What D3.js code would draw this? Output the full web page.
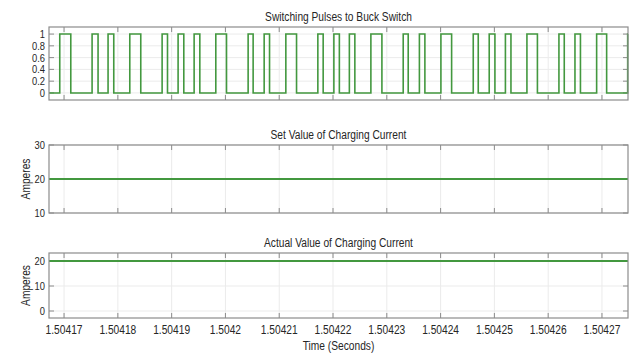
<!DOCTYPE html>
<html>
<head>
<meta charset="utf-8">
<script src="https://cdn.jsdelivr.net/npm/d3@7"></script>
<style>
  html, body { margin: 0; padding: 0; background: #fff; }
  text { font-family: "Liberation Sans", Arial, sans-serif; fill: #262626; }
</style>
</head>
<body>
<div id="chart"></div>
<script>
// time window shown on every panel (seconds)
const timeDomain = [1.5041672, 1.50427484];

const xTicks = [1.50417, 1.50418, 1.50419, 1.5042, 1.50421, 1.50422, 1.50423, 1.50424, 1.50425, 1.50426, 1.50427];
const xTickLabels = ["1.50417", "1.50418", "1.50419", "1.5042", "1.50421", "1.50422", "1.50423", "1.50424", "1.50425", "1.50426", "1.50427"];

// switching pulses: time of each edge and the level after it
const pulseTimes = [1.5041672, 1.5041692, 1.50417125, 1.50417521, 1.50417632, 1.50417818, 1.50417924,
    1.50418222, 1.50418426, 1.50418823, 1.50418923, 1.5041912, 1.50419226, 1.50419418, 1.50419524,
    1.50419821, 1.5042002, 1.50420422, 1.50420515, 1.5042072, 1.5042082, 1.50421123, 1.50421322,
    1.50421718, 1.50421817, 1.50422016, 1.50422118, 1.50422304, 1.50422406, 1.50422704, 1.50422909,
    1.50423305, 1.50423398, 1.50423606, 1.50423708, 1.50424006, 1.50424205, 1.50424607, 1.504247,
    1.50424904, 1.5042501, 1.50425205, 1.50425308, 1.50425605, 1.504258, 1.504262, 1.50426299,
    1.50426498, 1.504266, 1.50426901, 1.50427087, 1.50427478, 1.50427484];
const pulseLevels = [0, 1, 0, 1, 0, 1, 0,
    1, 0, 1, 0, 1, 0, 1, 0,
    1, 0, 1, 0, 1, 0, 1, 0,
    1, 0, 1, 0, 1, 0, 1, 0,
    1, 0, 1, 0, 1, 0, 1, 0,
    1, 0, 1, 0, 1, 0, 1, 0,
    1, 0, 1, 0, 1, 1];
const pulseYTicks = [0, 0.2, 0.4, 0.6, 0.8, 1];
const pulseYLabels = ["0", "0.2", "0.4", "0.6", "0.8", "1"];

// set value of charging current
const setTimes = [1.5041672, 1.50427484];
const setValues = [20, 20];
const setYTicks = [10, 20, 30];

// actual value of charging current
const actualTimes = [1.5041672, 1.50427484];
const actualValues = [20, 20];
const actualYTicks = [0, 10, 20];

const
    width = 634,
    height = 354,
    margin = { left: 49, right: 6 },
    squeeze = 0.85,
    colors = { line: "#43983f", grid: "#ebebeb", box: "#8c8c8c", text: "#262626" },
    svg = d3.select("#chart").append("svg").attr("width", width).attr("height", height);

const xScale = d3.scaleLinear()
    .domain(timeDomain)
    .range([margin.left, width - margin.right]);

// narrow the text a bit, the original is horizontally compressed
function addText(g, x, y, str, size, anchor) {
    const t = g.append("text")
        .attr("x", x)
        .attr("y", y)
        .attr("font-size", size)
        .attr("text-anchor", anchor)
        .text(str);
    const len = t.node().getComputedTextLength();
    t.attr("textLength", len * squeeze).attr("lengthAdjust", "spacingAndGlyphs");
    return t;
}

function createPanel(opts) {
    const y = d3.scaleLinear().domain(opts.yDomain).range([opts.bottom, opts.top]);
    const g = svg.append("g");
    const x0 = margin.left, x1 = width - margin.right;

    // grid
    g.selectAll(".vgrid").data(xTicks).enter().append("line")
        .attr("x1", d => xScale(d)).attr("x2", d => xScale(d))
        .attr("y1", opts.top).attr("y2", opts.bottom)
        .attr("stroke", colors.grid).attr("stroke-width", 1);
    g.selectAll(".hgrid").data(opts.yTicks).enter().append("line")
        .attr("x1", x0).attr("x2", x1)
        .attr("y1", d => y(d)).attr("y2", d => y(d))
        .attr("stroke", colors.grid).attr("stroke-width", 1);

    // inward ticks on all four sides
    const tl = 5;
    xTicks.forEach(d => {
        g.append("line").attr("x1", xScale(d)).attr("x2", xScale(d))
            .attr("y1", opts.bottom).attr("y2", opts.bottom - tl)
            .attr("stroke", colors.box);
        g.append("line").attr("x1", xScale(d)).attr("x2", xScale(d))
            .attr("y1", opts.top).attr("y2", opts.top + tl)
            .attr("stroke", colors.box);
    });
    opts.yTicks.forEach(d => {
        g.append("line").attr("x1", x0).attr("x2", x0 + tl)
            .attr("y1", y(d)).attr("y2", y(d)).attr("stroke", colors.box);
        g.append("line").attr("x1", x1).attr("x2", x1 - tl)
            .attr("y1", y(d)).attr("y2", y(d)).attr("stroke", colors.box);
    });

    // data line
    const line = d3.line()
        .x(d => xScale(d[0]))
        .y(d => y(d[1]))
        .curve(opts.step ? d3.curveStepAfter : d3.curveLinear);
    g.append("path")
        .datum(opts.times.map((t, i) => [t, opts.values[i]]))
        .attr("fill", "none")
        .attr("stroke", colors.line)
        .attr("stroke-width", opts.lineWidth)
        .attr("stroke-linejoin", "miter")
        .attr("d", line);

    // box
    g.append("rect")
        .attr("x", x0).attr("y", opts.top)
        .attr("width", x1 - x0).attr("height", opts.bottom - opts.top)
        .attr("fill", "none").attr("stroke", colors.box).attr("stroke-width", 1.2);

    // y tick labels
    opts.yTicks.forEach((d, i) => {
        addText(g, x0 - 4, y(d) + 4, opts.yLabels ? opts.yLabels[i] : String(d), 11, "end");
    });

    // title
    addText(g, (x0 + x1) / 2, opts.top - 6, opts.title, 12, "middle");

    if (opts.ylabel) {
        const cy = (opts.top + opts.bottom) / 2;
        addText(g, 0, 0, opts.ylabel, 12, "middle")
            .attr("transform", `translate(30,${cy}) rotate(-90)`);
    }
    return g;
}

createPanel({
    top: 27, bottom: 100, yDomain: [-0.12, 1.12],
    yTicks: pulseYTicks, yLabels: pulseYLabels,
    times: pulseTimes, values: pulseLevels, step: true, lineWidth: 1.6,
    title: "Switching Pulses to Buck Switch"
});

createPanel({
    top: 145, bottom: 213, yDomain: [10, 30],
    yTicks: setYTicks,
    times: setTimes, values: setValues, step: false, lineWidth: 2.2,
    title: "Set Value of Charging Current", ylabel: "Amperes"
});

const bottomPanel = createPanel({
    top: 253, bottom: 318, yDomain: [-2.8, 23.2],
    yTicks: actualYTicks,
    times: actualTimes, values: actualValues, step: false, lineWidth: 2.2,
    title: "Actual Value of Charging Current", ylabel: "Amperes"
});

// x tick labels and axis title under the last panel
xTicks.forEach((d, i) => {
    addText(bottomPanel, xScale(d), 334, xTickLabels[i], 12, "middle");
});
addText(bottomPanel, xScale.range()[0] / 2 + xScale.range()[1] / 2, 350, "Time (Seconds)", 12, "middle");
</script>
</body>
</html>
